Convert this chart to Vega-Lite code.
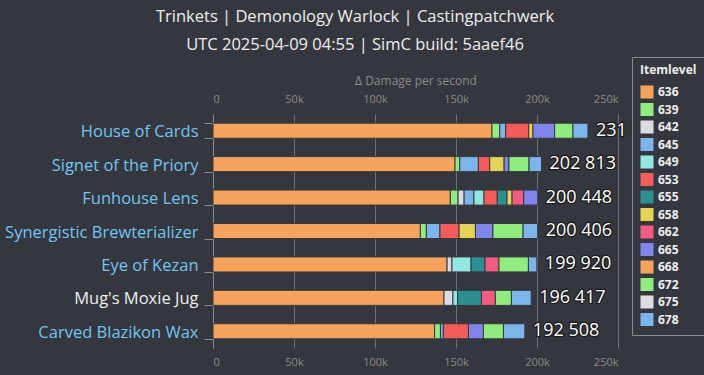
{
  "$schema": "https://vega.github.io/schema/vega-lite/v6.json",
  "width": 405,
  "height": 234,
  "autosize": {"type": "none"},
  "padding": {"left": 213, "top": 114, "right": 86, "bottom": 27},
  "background": "#34383e",
  "config": {
    "view": {"stroke": null},
    "font": "Open Sans",
    "locale": {"number": {"decimal": ".", "thousands": " ", "grouping": [3], "currency": ["", ""]}}
  },
  "title": {
    "text": "Trinkets | Demonology Warlock | Castingpatchwerk",
    "subtitle": "UTC 2025-04-09 04:55 | SimC build: 5aaef46",
    "anchor": "middle",
    "frame": "bounds",
    "font": "Open Sans",
    "subtitleFont": "Open Sans",
    "fontSize": 16.5,
    "subtitleFontSize": 16.5,
    "fontWeight": "normal",
    "color": "#eeeeee",
    "subtitleColor": "#eeeeee",
    "subtitlePadding": 12,
    "offset": 3
  },
  "datasets": {
    "segments": [
      {"trinket": "House of Cards", "ilvl": 636, "dps": 172200},
      {"trinket": "House of Cards", "ilvl": 639, "dps": 4800},
      {"trinket": "House of Cards", "ilvl": 645, "dps": 3700},
      {"trinket": "House of Cards", "ilvl": 653, "dps": 14200},
      {"trinket": "House of Cards", "ilvl": 658, "dps": 2600},
      {"trinket": "House of Cards", "ilvl": 665, "dps": 13400},
      {"trinket": "House of Cards", "ilvl": 672, "dps": 11300},
      {"trinket": "House of Cards", "ilvl": 678, "dps": 9250},
      {"trinket": "Signet of the Priory", "ilvl": 636, "dps": 149400},
      {"trinket": "Signet of the Priory", "ilvl": 639, "dps": 2900},
      {"trinket": "Signet of the Priory", "ilvl": 645, "dps": 11500},
      {"trinket": "Signet of the Priory", "ilvl": 653, "dps": 7000},
      {"trinket": "Signet of the Priory", "ilvl": 658, "dps": 8900},
      {"trinket": "Signet of the Priory", "ilvl": 665, "dps": 3000},
      {"trinket": "Signet of the Priory", "ilvl": 672, "dps": 12400},
      {"trinket": "Signet of the Priory", "ilvl": 678, "dps": 7713},
      {"trinket": "Funhouse Lens", "ilvl": 636, "dps": 146500},
      {"trinket": "Funhouse Lens", "ilvl": 639, "dps": 4800},
      {"trinket": "Funhouse Lens", "ilvl": 642, "dps": 3700},
      {"trinket": "Funhouse Lens", "ilvl": 645, "dps": 6100},
      {"trinket": "Funhouse Lens", "ilvl": 649, "dps": 6200},
      {"trinket": "Funhouse Lens", "ilvl": 653, "dps": 8200},
      {"trinket": "Funhouse Lens", "ilvl": 655, "dps": 6000},
      {"trinket": "Funhouse Lens", "ilvl": 658, "dps": 3100},
      {"trinket": "Funhouse Lens", "ilvl": 662, "dps": 7200},
      {"trinket": "Funhouse Lens", "ilvl": 665, "dps": 8648},
      {"trinket": "Synergistic Brewterializer", "ilvl": 636, "dps": 128000},
      {"trinket": "Synergistic Brewterializer", "ilvl": 639, "dps": 3700},
      {"trinket": "Synergistic Brewterializer", "ilvl": 645, "dps": 8400},
      {"trinket": "Synergistic Brewterializer", "ilvl": 653, "dps": 11800},
      {"trinket": "Synergistic Brewterializer", "ilvl": 658, "dps": 10100},
      {"trinket": "Synergistic Brewterializer", "ilvl": 665, "dps": 10800},
      {"trinket": "Synergistic Brewterializer", "ilvl": 672, "dps": 18600},
      {"trinket": "Synergistic Brewterializer", "ilvl": 678, "dps": 9006},
      {"trinket": "Eye of Kezan", "ilvl": 636, "dps": 144500},
      {"trinket": "Eye of Kezan", "ilvl": 642, "dps": 3000},
      {"trinket": "Eye of Kezan", "ilvl": 649, "dps": 11800},
      {"trinket": "Eye of Kezan", "ilvl": 655, "dps": 8600},
      {"trinket": "Eye of Kezan", "ilvl": 662, "dps": 8600},
      {"trinket": "Eye of Kezan", "ilvl": 672, "dps": 18200},
      {"trinket": "Eye of Kezan", "ilvl": 678, "dps": 5220},
      {"trinket": "Mug's Moxie Jug", "ilvl": 636, "dps": 142600},
      {"trinket": "Mug's Moxie Jug", "ilvl": 642, "dps": 5500},
      {"trinket": "Mug's Moxie Jug", "ilvl": 649, "dps": 2900},
      {"trinket": "Mug's Moxie Jug", "ilvl": 655, "dps": 14700},
      {"trinket": "Mug's Moxie Jug", "ilvl": 662, "dps": 8600},
      {"trinket": "Mug's Moxie Jug", "ilvl": 672, "dps": 9900},
      {"trinket": "Mug's Moxie Jug", "ilvl": 678, "dps": 12217},
      {"trinket": "Carved Blazikon Wax", "ilvl": 636, "dps": 136800},
      {"trinket": "Carved Blazikon Wax", "ilvl": 639, "dps": 3600},
      {"trinket": "Carved Blazikon Wax", "ilvl": 645, "dps": 1800},
      {"trinket": "Carved Blazikon Wax", "ilvl": 653, "dps": 15500},
      {"trinket": "Carved Blazikon Wax", "ilvl": 665, "dps": 9200},
      {"trinket": "Carved Blazikon Wax", "ilvl": 672, "dps": 12400},
      {"trinket": "Carved Blazikon Wax", "ilvl": 678, "dps": 13208}
    ],
    "totals": [
      {"trinket": "House of Cards", "total": 231450},
      {"trinket": "Signet of the Priory", "total": 202813},
      {"trinket": "Funhouse Lens", "total": 200448},
      {"trinket": "Synergistic Brewterializer", "total": 200406},
      {"trinket": "Eye of Kezan", "total": 199920},
      {"trinket": "Mug's Moxie Jug", "total": 196417},
      {"trinket": "Carved Blazikon Wax", "total": 192508}
    ]
  },
  "resolve": {"axis": {"x": "independent"}},
  "layer": [
    {
      "data": {"name": "segments"},
      "mark": {"type": "bar", "stroke": "#34383e", "strokeWidth": 1},
      "encoding": {
        "y": {
          "field": "trinket",
          "type": "nominal",
          "sort": ["House of Cards", "Signet of the Priory", "Funhouse Lens", "Synergistic Brewterializer", "Eye of Kezan", "Mug's Moxie Jug", "Carved Blazikon Wax"],
          "scale": {"paddingInner": 0.55, "paddingOuter": 0.275},
          "axis": {
            "title": null,
            "labelFont": "Open Sans",
            "labelFontSize": 16.5,
            "labelLimit": 300,
            "labelColor": {"condition": {"test": "datum.value == \"Mug's Moxie Jug\"", "value": "#eeeeee"}, "value": "#72c4f2"},
            "labelPadding": 6,
            "labelOffset": 1,
            "domainColor": "#8a8a8a",
            "tickColor": "#8a8a8a",
            "tickSize": 9,
            "tickBand": "extent",
            "grid": false
          }
        },
        "x": {
          "field": "dps",
          "type": "quantitative",
          "stack": "zero",
          "scale": {"domain": [0, 250000], "nice": false},
          "axis": {
            "orient": "top",
            "title": "Δ Damage per second",
            "titleColor": "#8a8a8a",
            "titleFontSize": 12,
            "titleFontWeight": "normal",
            "titleFont": "Open Sans",
            "titlePadding": 6,
            "labelColor": "#8a8a8a",
            "labelFontSize": 11,
            "labelFont": "Open Sans",
            "labelPadding": 10,
            "values": [0, 50000, 100000, 150000, 200000, 250000],
            "labelExpr": "datum.value == 0 ? '0' : format(datum.value / 1000, 'd') + 'k'",
            "domain": false,
            "ticks": false,
            "grid": true,
            "gridColor": "#6e7176",
            "gridWidth": 1
          }
        },
        "color": {
          "field": "ilvl",
          "type": "nominal",
          "scale": {
            "domain": [636, 639, 642, 645, 649, 653, 655, 658, 662, 665, 668, 672, 675, 678],
            "range": ["#f7a35c", "#90ed7d", "#dcdce2", "#7cb5ec", "#91e8e1", "#f45b5b", "#2b908f", "#e4d354", "#f15c80", "#8085e9", "#f7a35c", "#90ed7d", "#dcdce2", "#7cb5ec"]
          },
          "legend": {
            "title": "Itemlevel",
            "orient": "none",
            "legendX": 419,
            "legendY": -57,
            "direction": "vertical",
            "strokeColor": "#8a8a8a",
            "fillColor": "#34383e",
            "padding": 8,
            "titleColor": "#eeeeee",
            "titleFont": "Open Sans",
            "titleFontSize": 12,
            "titleFontWeight": "bold",
            "titlePadding": 8,
            "labelColor": "#eeeeee",
            "labelFont": "Open Sans",
            "labelFontSize": 12,
            "labelFontWeight": "bold",
            "symbolType": "square",
            "symbolSize": 170,
            "symbolStrokeWidth": 0,
            "rowPadding": 3.5
          }
        },
        "order": {"field": "ilvl", "type": "quantitative", "sort": "ascending"}
      }
    },
    {
      "data": {"name": "totals"},
      "mark": {"type": "text", "align": "left", "baseline": "middle", "dx": 8, "font": "Open Sans", "fontSize": 18, "stroke": "#1a1a1a", "strokeWidth": 2.5, "strokeJoin": "round", "fill": "#1a1a1a"},
      "encoding": {
        "y": {"field": "trinket", "type": "nominal", "sort": ["House of Cards", "Signet of the Priory", "Funhouse Lens", "Synergistic Brewterializer", "Eye of Kezan", "Mug's Moxie Jug", "Carved Blazikon Wax"]},
        "x": {
          "field": "total",
          "type": "quantitative",
          "axis": {
            "orient": "bottom",
            "title": null,
            "labelColor": "#8a8a8a",
            "labelFontSize": 11,
            "labelFont": "Open Sans",
            "labelPadding": 8,
            "values": [0, 50000, 100000, 150000, 200000, 250000],
            "labelExpr": "datum.value == 0 ? '0' : format(datum.value / 1000, 'd') + 'k'",
            "domain": false,
            "ticks": false,
            "grid": false
          }
        },
        "text": {"field": "total", "type": "quantitative", "format": ",d"}
      }
    },
    {
      "data": {"name": "totals"},
      "mark": {"type": "text", "align": "left", "baseline": "middle", "dx": 8, "font": "Open Sans", "fontSize": 18, "fill": "#ffffff"},
      "encoding": {
        "y": {"field": "trinket", "type": "nominal", "sort": ["House of Cards", "Signet of the Priory", "Funhouse Lens", "Synergistic Brewterializer", "Eye of Kezan", "Mug's Moxie Jug", "Carved Blazikon Wax"]},
        "x": {"field": "total", "type": "quantitative", "axis": null},
        "text": {"field": "total", "type": "quantitative", "format": ",d"}
      }
    }
  ]
}
